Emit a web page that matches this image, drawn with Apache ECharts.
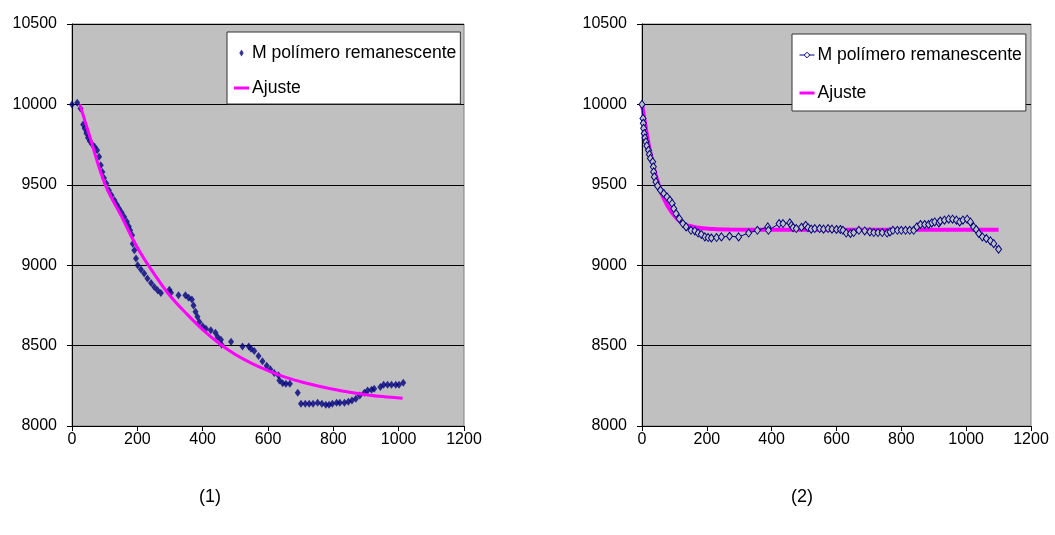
<!DOCTYPE html>
<html>
<head>
<meta charset="utf-8">
<script src="https://cdn.jsdelivr.net/npm/echarts@6/dist/echarts.min.js"></script>
<style>
html,body{margin:0;padding:0;background:#fff;}
#chart{width:1055px;height:535px;}
</style>
</head>
<body>
<div id="chart"></div>
<script>
// ---- data ----
var xTicks = [0, 200, 400, 600, 800, 1000, 1200];
var yTicks = [8000, 8500, 9000, 9500, 10000, 10500];
var seriesLabelMeasured = 'M polímero remanescente';
var seriesLabelFit = 'Ajuste';
var panelLabels = ['(1)', '(2)'];

var leftMeasured = [
  [0,10000],[16,10010],[26,9975],[34,9875],[39,9850],[44,9820],[49,9792],[55,9771],[62,9751],[69,9736],
  [77,9715],[83,9674],[88,9622],[93,9580],[98,9543],[105,9508],[113,9466],[121,9435],[130,9404],[137,9377],
  [144,9352],[152,9328],[160,9300],[168,9270],[174,9240],[178,9217],[184,9186],[186,9134],[191,9093],[196,9041],
  [201,9000],[211,8973],[221,8948],[231,8917],[242,8889],[252,8864],[262,8844],[272,8827],[298,8848],[303,8829],
  [326,8813],[347,8813],[357,8798],[367,8786],[372,8750],[378,8710],[384,8680],[390,8646],[400,8620],[410,8605],
  [425,8595],[439,8580],[446,8553],[456,8537],[458,8506],[487,8524],[522,8495],[541,8495],[548,8481],[558,8466],
  [571,8435],[583,8402],[596,8375],[607,8353],[619,8329],[632,8315],[635,8283],[645,8266],[655,8262],[667,8262],
  [691,8207],[701,8138],[714,8138],[726,8138],[738,8138],[752,8145],[765,8138],[777,8132],[787,8132],[797,8138],
  [810,8145],[820,8145],[834,8145],[846,8151],[857,8159],[869,8170],[881,8190],[895,8207],[905,8221],[917,8225],
  [925,8232],[944,8242],[954,8257],[966,8257],[978,8257],[991,8257],[1001,8257],[1014,8269]
];
var leftFit = [
  [24,10000],[50,9830],[100,9510],[150,9310],[200,9110],[250,8950],[300,8810],[350,8700],[400,8600],[450,8515],
  [500,8445],[550,8390],[600,8345],[650,8305],[700,8275],[750,8250],[800,8228],[850,8210],[900,8195],[950,8183],[1012,8173]
];
var rightMeasured = [
  [0,10000],[3,9913],[4,9882],[5,9851],[7,9819],[9,9792],[12,9767],[15,9742],[20,9715],[23,9689],
  [26,9664],[33,9643],[35,9612],[36,9580],[38,9549],[43,9518],[48,9493],[57,9466],[67,9446],[77,9425],
  [86,9404],[93,9384],[98,9352],[105,9321],[115,9290],[126,9259],[136,9238],[151,9217],[163,9213],[173,9200],
  [183,9192],[194,9176],[204,9172],[214,9169],[230,9172],[245,9176],[270,9180],[298,9176],[329,9200],[356,9217],
  [388,9238],[390,9217],[423,9259],[435,9259],[456,9263],[461,9248],[466,9234],[476,9228],[492,9236],[505,9248],
  [512,9234],[522,9224],[533,9228],[548,9228],[560,9224],[574,9228],[586,9224],[600,9222],[612,9222],[620,9217],
  [630,9200],[643,9197],[653,9203],[669,9217],[687,9213],[703,9207],[715,9203],[728,9203],[741,9203],[756,9200],
  [765,9207],[774,9217],[788,9217],[800,9217],[813,9217],[826,9217],[838,9217],[848,9238],[859,9253],[872,9253],
  [884,9253],[894,9263],[903,9269],[916,9263],[920,9275],[933,9280],[946,9286],[958,9286],[970,9280],[980,9269],
  [990,9280],[1003,9286],[1013,9269],[1023,9238],[1031,9222],[1039,9197],[1050,9176],[1062,9166],[1075,9151],[1085,9134],[1100,9099]
];
var rightFit = [
  [0,10000],[12,9850],[24,9716],[44,9549],[65,9425],[91,9331],[126,9259],[168,9234],[220,9225],[270,9222],
  [400,9220],[600,9220],[800,9220],[1000,9220],[1100,9220]
];

// ---- styling ----
var FONT = "'Liberation Sans', Arial, sans-serif";
var NAVY = '#000080';
var MAGENTA = '#FF00FF';
var LINE_ICON = 'path://M0,0L15,0L15,3L0,3Z';

function plain(v) { return String(v); }

function xAxisFor(i) {
  return {
    gridIndex: i, type: 'value',
    min: xTicks[0], max: xTicks[xTicks.length - 1], interval: xTicks[1] - xTicks[0],
    axisLine: { show: true, onZero: false, lineStyle: { color: '#000', width: 1 } },
    axisTick: { show: true, length: 5, lineStyle: { color: '#000' } },
    axisLabel: { color: '#000', fontSize: 16, fontFamily: FONT, margin: 6, formatter: plain },
    splitLine: { show: false }
  };
}
function yAxisFor(i) {
  return {
    gridIndex: i, type: 'value',
    min: yTicks[0], max: yTicks[yTicks.length - 1], interval: yTicks[1] - yTicks[0],
    axisLine: { show: true, lineStyle: { color: '#000', width: 1 } },
    axisTick: { show: true, length: 5, lineStyle: { color: '#000' } },
    axisLabel: { color: '#000', fontSize: 16, fontFamily: FONT, margin: 15, formatter: plain },
    splitLine: { show: true, lineStyle: { color: '#000', width: 1 } }
  };
}
function legendFor(items, left, top, gap, pad) {
  return {
    orient: 'vertical', left: left, top: top,
    data: items,
    selectedMode: false,
    backgroundColor: '#fff', borderColor: '#333', borderWidth: 1, borderRadius: 0,
    padding: pad,
    itemWidth: 15, itemHeight: 7, itemGap: gap,
    symbolKeepAspect: true,
    formatter: function (n) { return n.charAt(0) === 'M' ? seriesLabelMeasured : seriesLabelFit; },
    textStyle: { color: '#000', fontSize: 17.6, fontFamily: FONT, lineHeight: 18, padding: [0, 0, 0, -2] }
  };
}

var chart = echarts.init(document.getElementById('chart'), null, { renderer: 'canvas' });
chart.setOption({
  animation: false,
  backgroundColor: '#fff',
  grid: [
    { left: 72, top: 24, width: 392, height: 402, show: true, backgroundColor: '#C0C0C0', borderColor: '#808080', borderWidth: 1 },
    { left: 642, top: 24, width: 389, height: 402, show: true, backgroundColor: '#C0C0C0', borderColor: '#808080', borderWidth: 1 }
  ],
  xAxis: [xAxisFor(0), xAxisFor(1)],
  yAxis: [yAxisFor(0), yAxisFor(1)],
  legend: [
    legendFor([
      { name: 'M1', icon: 'path://M0,-4L2.5,0L0,4L-2.5,0Z' },
      { name: 'A1', icon: LINE_ICON, itemStyle: { color: MAGENTA } }
    ], 227, 32, 17, [12, 4, 7, 7]),
    legendFor([
      { name: 'M2', itemStyle: { color: '#fff', borderColor: NAVY, borderWidth: 1 }, lineStyle: { color: NAVY, width: 1 } },
      { name: 'A2', icon: LINE_ICON, itemStyle: { color: MAGENTA } }
    ], 792, 34, 20, [12, 4, 9, 7])
  ],
  graphic: [
    { type: 'text', left: 199, top: 488, style: { text: panelLabels[0], fontSize: 18, fontFamily: FONT, fill: '#000' } },
    { type: 'text', left: 791, top: 488, style: { text: panelLabels[1], fontSize: 18, fontFamily: FONT, fill: '#000' } }
  ],
  series: [
    {
      name: 'M1', type: 'scatter', xAxisIndex: 0, yAxisIndex: 0,
      data: leftMeasured, symbol: 'diamond', symbolSize: [6, 8],
      itemStyle: { color: NAVY }, z: 2
    },
    {
      name: 'A1', type: 'line', xAxisIndex: 0, yAxisIndex: 0,
      data: leftFit, smooth: 0.4, symbol: 'none',
      lineStyle: { color: MAGENTA, width: 3 }, itemStyle: { color: MAGENTA }, z: 3
    },
    {
      name: 'A2', type: 'line', xAxisIndex: 1, yAxisIndex: 1,
      data: rightFit, smooth: 0.3, symbol: 'none',
      lineStyle: { color: MAGENTA, width: 4 }, itemStyle: { color: MAGENTA }, z: 2
    },
    {
      name: 'M2', type: 'line', xAxisIndex: 1, yAxisIndex: 1,
      data: rightMeasured, symbol: 'diamond', symbolSize: [6, 8], showAllSymbol: true,
      lineStyle: { color: NAVY, width: 1 },
      itemStyle: { color: '#C0C0C0', borderColor: NAVY, borderWidth: 1 }, z: 3
    }
  ]
});
</script>
</body>
</html>
